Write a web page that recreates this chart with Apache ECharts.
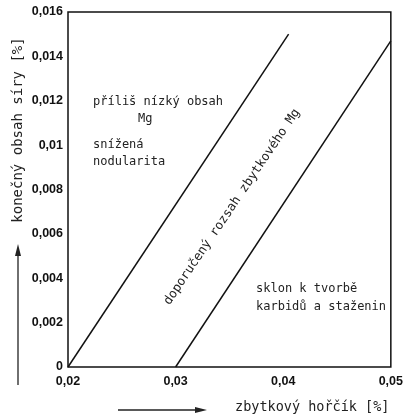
<!DOCTYPE html>
<html>
<head>
<meta charset="utf-8">
<script src="https://cdn.jsdelivr.net/npm/echarts@6/dist/echarts.min.js"></script>
<style>
  html, body { margin: 0; padding: 0; background: #fff; }
  #chart { width: 406px; height: 418px; }
</style>
</head>
<body>
<div id="chart"></div>
<script>
// hranice doporuceneho rozsahu zbytkoveho Mg  [Mg %, S %]
var lowerLimit = [[0.02, 0], [0.0405, 0.015]];
var upperLimit = [[0.03, 0], [0.05, 0.0147]];
var xTicks = [0.02, 0.03, 0.04, 0.05];
var yTicks = [0, 0.002, 0.004, 0.006, 0.008, 0.01, 0.012, 0.014, 0.016];

var mono = '"DejaVu Sans Mono", monospace';
var comma = function (v) { return String(+v.toFixed(4)).replace('.', ','); };

var chart = echarts.init(document.getElementById('chart'));

chart.setOption({
    animation: false,
    backgroundColor: '#fff',
    grid: {
        left: 68, right: 15, top: 12, bottom: 51,
        show: true, borderColor: '#111', borderWidth: 1.5
    },
    xAxis: {
        type: 'value', min: 0.02, max: 0.05, interval: 0.01,
        axisLine: { show: false }, axisTick: { show: false }, splitLine: { show: false },
        axisLabel: {
            formatter: comma, color: '#111', margin: 8,
            fontFamily: '"Liberation Sans", Arial, sans-serif', fontWeight: 'bold', fontSize: 12.5
        }
    },
    yAxis: {
        type: 'value', min: 0, max: 0.016, interval: 0.002,
        axisLine: { show: false }, axisTick: { show: false }, splitLine: { show: false },
        axisLabel: {
            formatter: comma, color: '#111', margin: 5,
            fontFamily: '"Liberation Sans", Arial, sans-serif', fontWeight: 'bold', fontSize: 12.5
        }
    },
    series: [
        { type: 'line', data: lowerLimit, symbol: 'none', lineStyle: { color: '#111', width: 1.5 } },
        { type: 'line', data: upperLimit, symbol: 'none', lineStyle: { color: '#111', width: 1.5 } }
    ],
    graphic: [
        { type: 'text', left: 93, top: 96, style: { text: 'příliš nízký obsah', font: '12px ' + mono, fill: '#222' } },
        { type: 'text', left: 138, top: 113, style: { text: 'Mg', font: '12px ' + mono, fill: '#222' } },
        { type: 'text', left: 93, top: 136, style: { text: 'snížená\nnodularita', font: '12px ' + mono, fill: '#222', lineHeight: 17 } },
        { type: 'text', left: 256, top: 280, style: { text: 'sklon k tvorbě\nkarbidů a staženin', font: '12px ' + mono, fill: '#222', lineHeight: 18 } },
        {
            type: 'text', x: 232, y: 207, rotation: 56 * Math.PI / 180,
            style: { text: 'doporučený rozsah zbytkového Mg', font: '12.5px ' + mono, fill: '#222', align: 'center', verticalAlign: 'middle' }
        },
        {
            type: 'text', x: 18, y: 130, rotation: Math.PI / 2,
            style: { text: 'konečný obsah síry [%]', font: '14px ' + mono, fill: '#222', align: 'center', verticalAlign: 'middle' }
        },
        { type: 'text', left: 235, top: 400, style: { text: 'zbytkový hořčík [%]', font: '13.5px ' + mono, fill: '#222' } },
        { type: 'line', shape: { x1: 18, y1: 385, x2: 18, y2: 250 }, style: { stroke: '#222', lineWidth: 1.3 } },
        { type: 'polygon', shape: { points: [[18, 244], [15, 256], [21, 256]] }, style: { fill: '#222' } },
        { type: 'line', shape: { x1: 118, y1: 410, x2: 200, y2: 410 }, style: { stroke: '#222', lineWidth: 1.3 } },
        { type: 'polygon', shape: { points: [[207, 410], [195, 407], [195, 413]] }, style: { fill: '#222' } }
    ]
});
</script>
</body>
</html>
